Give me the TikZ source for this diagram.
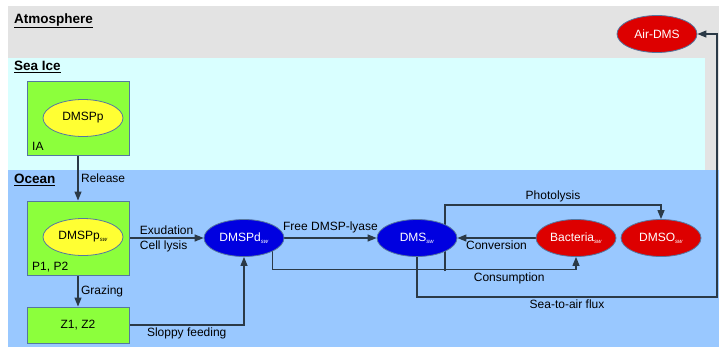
\documentclass[tikz,border=0pt]{standalone}
\usepackage{fontspec}
\setmainfont{Liberation Sans}
\usetikzlibrary{arrows.meta,shapes.geometric}

\definecolor{atmo}{HTML}{E3E3E3}
\definecolor{seaice}{HTML}{D9FFFF}
\definecolor{ocean}{HTML}{99C8FF}
\definecolor{cellgreen}{HTML}{8CFF3C}
\definecolor{poolyellow}{HTML}{FFFF33}
\definecolor{poolblue}{HTML}{0000E0}
\definecolor{poolred}{HTML}{DD0000}
\definecolor{rim}{HTML}{5577A0}
\definecolor{wire}{HTML}{2B3A47}

\newcommand{\sw}{\textsubscript{\fontsize{6}{6}\selectfont\itshape sw}}

\pgfdeclarelayer{back}
\pgfdeclarelayer{wires}
\pgfsetlayers{back,wires,main}

\begin{document}
\begin{tikzpicture}[x=1pt, y=-1pt, font=\fontsize{12}{14}\selectfont,
    cell/.style={draw=rim, line width=0.9pt, fill=cellgreen, inner sep=0pt},
    pool/.style={ellipse, draw=rim, line width=0.8pt, minimum width=80pt, minimum height=37pt, inner sep=0pt},
    flow/.style={draw=wire, line width=1.2pt, -{Triangle[length=9pt,width=7pt]}},
    tag/.style={inner sep=2.5pt},
    region/.style={font=\fontsize{13.5}{16}\selectfont\bfseries, anchor=west, inner sep=0pt}]

    \useasboundingbox (0,0) rectangle (719,349);

    % layers of the model
    \begin{pgfonlayer}{back}
    \fill[atmo] (8,6) rectangle (719,170);
    \fill[seaice] (8,58) rectangle (705,170);
    \fill[ocean] (8,170) rectangle (719,347);
    \end{pgfonlayer}

    \node[region] (atm) at (14,21) {\underline{Atmosphere}};
    \node[region] (ice) at (14,67) {\underline{Sea Ice}};
    \node[region] (sea) at (14,180) {\underline{Ocean}};

    % ice algae, phytoplankton, zooplankton
    \node[cell, minimum width=102pt, minimum height=74pt] (ia) at (78,118) {};
    \node[pool, fill=poolyellow] (dmspp) at (83,118) {DMSPp};
    \node[anchor=west, inner sep=0pt] (ialab) at (32,146) {IA};

    \node[cell, minimum width=102pt, minimum height=74pt] (p) at (78,238) {};
    \node[pool, fill=poolyellow] (dmsppsw) at (83,237) {DMSPp\sw};
    \node[anchor=west, inner sep=0pt] (plab) at (32,267) {P1, P2};

    \node[cell, minimum width=102pt, minimum height=36pt] (z) at (78,325) {Z1, Z2};

    % sulfur pools
    \node[pool, fill=poolblue, text=white] (dmspd) at (244,238) {DMSPd\sw};
    \node[pool, fill=poolblue, text=white] (dms) at (417,238) {DMS\sw};
    \node[pool, fill=poolred, text=white] (bact) at (576,238) {Bacteria\sw};
    \node[pool, fill=poolred, text=white] (dmso) at (661,238) {DMSO\sw};
    \node[pool, fill=poolred, text=white] (air) at (657,34) {Air-DMS};

    \coordinate (fork) at (445,271);
    \coordinate (flux) at (717,297);

    \begin{pgfonlayer}{wires}
    \draw [flow] (ia) to node[tag, right] {Release} (p);
    \draw [flow] (p) to node[tag, right] {Grazing} (z);
    \draw [flow] (p) to node[tag, pos=0.1, anchor=south west] {Exudation} node[tag, pos=0.1, anchor=north west] {Cell lysis} (dmspd);
    \draw [flow] (z) -| node[tag, pos=0.25, below] {Sloppy feeding} (dmspd);
    \draw [flow] (dmspd) to node[tag, above=2pt] {Free DMSP-lyase} (dms);
    \draw [flow] (dmspd.south east) -- ++(0,18) -| node[tag, pos=0.39, below] {Consumption} (bact.south);
    \draw [flow] (bact) to node[tag, below] {Conversion} (dms);
    \draw [flow] (fork) -- ++(0,-66) -| node[tag, pos=0.25, above] {Photolysis} (dmso);
    \draw [flow] (dms) |- node[tag, pos=0.75, below] {Sea-to-air flux} (flux) |- (air);
    \end{pgfonlayer}

\end{tikzpicture}
\end{document}
